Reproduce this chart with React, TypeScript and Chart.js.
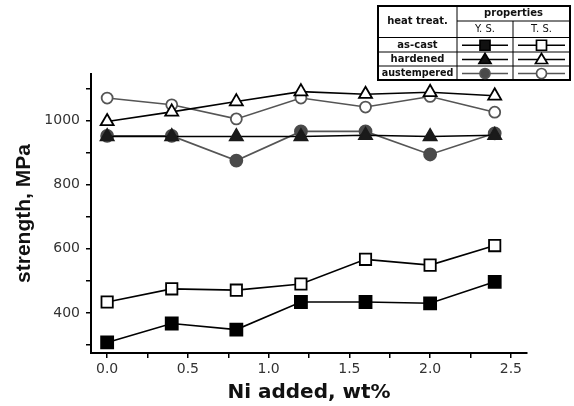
import React, { useEffect, useRef } from 'react';
import { Chart, registerables } from 'chart.js';

Chart.register(...registerables);

// ---- data ----
const niAdded = [0, 0.4, 0.8, 1.2, 1.6, 2.0, 2.4];
const asCastYS = [308, 367, 348, 434, 434, 430, 497];
const asCastTS = [434, 475, 471, 490, 567, 549, 610];
const hardenedYS = [950, 950, 950, 950, 954, 950, 954];
const hardenedTS = [997, 1027, 1059, 1090, 1082, 1088, 1077];
const austemperedYS = [952, 952, 875, 966, 966, 894, 960];
const austemperedTS = [1070, 1049, 1005, 1070, 1042, 1075, 1026];

const xTickValues = [0, 0.25, 0.5, 0.75, 1.0, 1.25, 1.5, 1.75, 2.0, 2.25, 2.5];
const xLabeled = [0, 0.5, 1.0, 1.5, 2.0, 2.5];
const yTickValues = [300, 400, 500, 600, 700, 800, 900, 1000, 1100];
const yLabeled = [400, 600, 800, 1000];

const legendTreatments = ['as-cast', 'hardened', 'austempered'];
const legendShapes = ['rect', 'triangle', 'circle'];
const legendHeaders = ['heat treat.', 'properties', 'Y. S.', 'T. S.'];

const GRAY = '#555555';
const DOT = '#4a4a4a';

function pts(ys: number[]) {
  return ys.map((y, i) => ({ x: niAdded[i], y }));
}

function drawMarker(ctx: CanvasRenderingContext2D, shape: string, filled: boolean, x: number, y: number, color: string, fillColor: string) {
  ctx.save();
  ctx.lineWidth = 1.7;
  ctx.strokeStyle = color;
  ctx.fillStyle = filled ? fillColor : '#ffffff';
  ctx.beginPath();
  if (shape === 'rect') {
    ctx.rect(x - 5, y - 5, 10, 10);
  } else if (shape === 'triangle') {
    ctx.moveTo(x, y - 6);
    ctx.lineTo(x + 6, y + 4);
    ctx.lineTo(x - 6, y + 4);
    ctx.closePath();
  } else {
    ctx.arc(x, y, 5, 0, Math.PI * 2);
  }
  ctx.fill();
  ctx.stroke();
  ctx.restore();
}

const tableLegend = {
  id: 'tableLegend',
  afterDraw(chart: any) {
    const ctx: CanvasRenderingContext2D = chart.ctx;
    const L = 378, R = 570, T = 6, B = 80;
    const c1 = 457, c2 = 513;
    const rows = [37.5, 52, 66];
    ctx.save();
    ctx.fillStyle = '#ffffff';
    ctx.fillRect(L, T, R - L, B - T);
    ctx.strokeStyle = '#000';
    ctx.lineWidth = 1;
    ctx.beginPath();
    ctx.moveTo(c1, T); ctx.lineTo(c1, B);
    ctx.moveTo(c2, 21); ctx.lineTo(c2, B);
    ctx.moveTo(c1, 21); ctx.lineTo(R, 21);
    rows.forEach((r) => { ctx.moveTo(L, r); ctx.lineTo(R, r); });
    ctx.stroke();
    ctx.lineWidth = 2;
    ctx.strokeRect(L, T, R - L, B - T);

    ctx.fillStyle = '#111';
    ctx.textAlign = 'center';
    ctx.textBaseline = 'middle';
    ctx.font = 'bold 10px "DejaVu Sans"';
    ctx.fillText(legendHeaders[0], (L + c1) / 2, (T + rows[0]) / 2);
    ctx.fillText(legendHeaders[1], (c1 + R) / 2, 13.5);
    ctx.font = '10px "DejaVu Sans"';
    ctx.fillText(legendHeaders[2], (c1 + c2) / 2, 29.5);
    ctx.fillText(legendHeaders[3], (c2 + R) / 2, 29.5);
    const rowBounds = [rows[0], rows[1], rows[2], B];
    legendTreatments.forEach((name, i) => {
      const cy = (rowBounds[i] + rowBounds[i + 1]) / 2 + 0.5;
      ctx.font = i === 2 ? 'bold 9.6px "DejaVu Sans"' : 'bold 10px "DejaVu Sans"';
      ctx.fillStyle = '#111';
      ctx.fillText(name, (L + c1) / 2, cy);
      const isAus = legendShapes[i] === 'circle';
      const lc = isAus ? GRAY : '#000';
      [[c1, c2], [c2, R]].forEach(([a, b], j) => {
        ctx.save();
        ctx.strokeStyle = lc;
        ctx.lineWidth = 1.6;
        ctx.beginPath();
        ctx.moveTo(a + 5, cy);
        ctx.lineTo(b - 5, cy);
        ctx.stroke();
        ctx.restore();
        drawMarker(ctx, legendShapes[i], j === 0, (a + b) / 2, cy, lc, isAus ? DOT : '#111');
      });
    });
    ctx.restore();
  },
};

export default function App() {
  const ref = useRef<HTMLCanvasElement>(null);
  useEffect(() => {
    if (!ref.current) return;
    const base = { showLine: true, borderWidth: 1.6, pointBorderWidth: 1.8 };
    const chart = new Chart(ref.current, {
      type: 'line',
      data: {
        datasets: [
          { ...base, label: 'as-cast Y.S.', data: pts(asCastYS), borderColor: '#000', pointBackgroundColor: '#000', pointBorderColor: '#000', pointStyle: 'rect', pointRadius: 8.5 },
          { ...base, label: 'as-cast T.S.', data: pts(asCastTS), borderColor: '#000', pointBackgroundColor: '#fff', pointBorderColor: '#000', pointStyle: 'rect', pointRadius: 8 },
          { ...base, label: 'hardened Y.S.', data: pts(hardenedYS), borderColor: '#000', pointBackgroundColor: '#1a1a1a', pointBorderColor: '#1a1a1a', pointStyle: 'triangle', pointRadius: 7.5 },
          { ...base, label: 'hardened T.S.', data: pts(hardenedTS), borderColor: '#000', pointBackgroundColor: '#fff', pointBorderColor: '#000', pointStyle: 'triangle', pointRadius: 7.5 },
          { ...base, label: 'austempered Y.S.', data: pts(austemperedYS), borderColor: GRAY, pointBackgroundColor: DOT, pointBorderColor: DOT, pointStyle: 'circle', pointRadius: 6 },
          { ...base, label: 'austempered T.S.', data: pts(austemperedTS), borderColor: GRAY, pointBackgroundColor: '#fff', pointBorderColor: GRAY, pointStyle: 'circle', pointRadius: 5.5 },
        ],
      },
      options: {
        responsive: false,
        animation: false,
        events: [],
        layout: { padding: { top: 74, right: 47, left: 0, bottom: 0 } },
        plugins: { legend: { display: false }, tooltip: { enabled: false } },
        scales: {
          x: {
            type: 'linear',
            min: -0.1,
            max: 2.6,
            afterBuildTicks: (s: any) => { s.ticks = xTickValues.map((v) => ({ value: v })); },
            afterFit: (s: any) => { s.height = 53; },
            grid: { drawOnChartArea: false, drawTicks: true, tickLength: 5, color: '#000', lineWidth: 1.5 },
            border: { display: true, color: '#000', width: 2 },
            ticks: {
              autoSkip: false,
              maxRotation: 0,
              padding: 3,
              color: '#333',
              font: { family: '"DejaVu Sans"', size: 14 },
              callback: (v: any) => (xLabeled.includes(Number(v)) ? Number(v).toFixed(1) : ''),
            },
            title: { display: true, text: 'Ni added, wt%', color: '#111', font: { family: '"DejaVu Sans"', size: 20, weight: 'bold' }, padding: { top: 0, bottom: 1 } },
          },
          y: {
            type: 'linear',
            min: 275,
            max: 1145,
            afterBuildTicks: (s: any) => { s.ticks = yTickValues.map((v) => ({ value: v })); },
            afterFit: (s: any) => { s.width = 91; },
            grid: { drawOnChartArea: false, drawTicks: true, tickLength: 5, color: '#000', lineWidth: 1.5 },
            border: { display: true, color: '#000', width: 2 },
            ticks: {
              autoSkip: false,
              padding: 6,
              color: '#333',
              font: { family: '"DejaVu Sans"', size: 14 },
              callback: (v: any) => (yLabeled.includes(Number(v)) ? String(v) : ''),
            },
            title: { display: true, text: 'strength, MPa', color: '#111', font: { family: '"Liberation Sans"', size: 21, weight: 'bold' }, padding: { top: 12, bottom: 0 } },
          },
        },
      },
      plugins: [tableLegend],
    } as any);
    return () => chart.destroy();
  }, []);
  return (
    <div style={{ position: 'fixed', left: 0, top: 0, width: 574, height: 406, background: '#fff' }}>
      <canvas ref={ref} width={574} height={406} style={{ display: 'block' }} />
    </div>
  );
}
